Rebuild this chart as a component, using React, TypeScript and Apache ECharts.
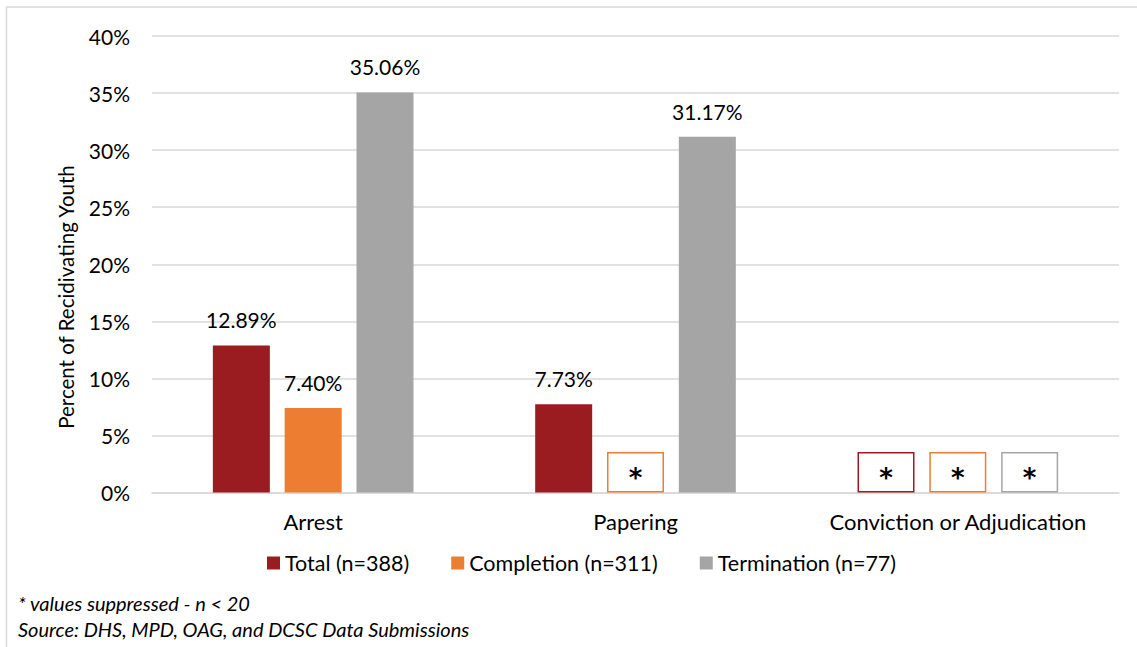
import React, { useEffect, useRef } from "react";
import * as echarts from "echarts";

const categories = ["Arrest", "Papering", "Conviction or Adjudication"];
const seriesNames = ["Total (n=388)", "Completion (n=311)", "Termination (n=77)"];
const colors = ["#9B1C20", "#ED7D31", "#A5A5A5"];
// null = suppressed (n < 20)
const totalValues: (number | null)[] = [12.89, 7.73, null];
const completionValues: (number | null)[] = [7.4, null, null];
const terminationValues: (number | null)[] = [35.06, 31.17, null];
const yTicks = [0, 5, 10, 15, 20, 25, 30, 35, 40];
const suppressedBoxHeight = 3.55;
const footnotes = ["* values suppressed - n < 20", "Source: DHS, MPD, OAG, and DCSC Data Submissions"];

const FONT = "Lato, 'Open Sans', sans-serif";

export default function App() {
  const ref = useRef<HTMLDivElement>(null);
  useEffect(() => {
    if (!ref.current) return;
    const chart = echarts.init(ref.current, null, { renderer: "svg" });
    const all = [totalValues, completionValues, terminationValues];
    const series = all.map((vals, i) => ({
      name: seriesNames[i],
      type: "bar",
      barWidth: 57,
      barGap: "26%",
      itemStyle: { color: colors[i] },
      data: vals.map((v) =>
        v === null
          ? {
              value: suppressedBoxHeight,
              itemStyle: { color: "#ffffff", borderColor: colors[i], borderWidth: 1.5 },
              label: {
                show: true,
                position: "inside",
                formatter: "*",
                fontSize: 26,
                fontWeight: "bold",
                color: "#000",
                fontFamily: "'DejaVu Sans', sans-serif",
                offset: [0, 6],
              },
            }
          : {
              value: v,
              label: {
                show: true,
                position: "top",
                distance: 15,
                formatter: v.toFixed(2) + "%",
                fontSize: 21,
                color: "#000",
                fontFamily: FONT,
              },
            }
      ),
    }));
    chart.setOption({
      animation: false,
      textStyle: { fontFamily: FONT },
      grid: { left: 152, right: 18, top: 36, bottom: 154.5, containLabel: false },
      xAxis: {
        type: "category",
        data: categories,
        axisLine: { show: true, lineStyle: { color: "#d9d9d9", width: 1.5 } },
        axisTick: { show: false },
        axisLabel: { interval: 0, fontSize: 22, color: "#000", margin: 18, fontFamily: FONT },
      },
      yAxis: {
        type: "value",
        min: yTicks[0],
        max: yTicks[yTicks.length - 1],
        interval: 5,
        axisLine: { show: false },
        axisTick: { show: false },
        axisLabel: { fontSize: 21, color: "#000", margin: 22, formatter: "{value}%", fontFamily: FONT },
        splitLine: { lineStyle: { color: "#d9d9d9", width: 1.5 } },
      },
      legend: {
        data: seriesNames,
        left: 262,
        top: 547,
        itemWidth: 13,
        itemHeight: 13,
        itemGap: 42,
        icon: "rect",
        textStyle: { fontSize: 21.5, color: "#000", fontFamily: FONT },
      },
      graphic: [
        {
          type: "rect",
          shape: { x: 6.5, y: 7, width: 1300, height: 800 },
          style: { fill: "none", stroke: "#d9d9d9", lineWidth: 1.5 },
          silent: true,
        },
        {
          type: "text",
          x: 66,
          y: 297,
          rotation: Math.PI / 2,
          style: {
            text: "Percent of Recidivating Youth",
            fontSize: 20.5,
            fill: "#000",
            fontFamily: FONT,
            align: "center",
            verticalAlign: "middle",
          },
        },
        ...footnotes.map((t, i) => ({
          type: "text",
          left: 18,
          top: 593 + i * 26,
          style: {
            text: t,
            fontSize: 20,
            fontStyle: "italic",
            fill: "#000",
            fontFamily: FONT,
          },
        })),
      ],
      series,
    });
    return () => chart.dispose();
  }, []);
  return (
    <div
      ref={ref}
      style={{ position: "absolute", left: 0, top: 0, width: 1137, height: 647, background: "#fff" }}
    />
  );
}
